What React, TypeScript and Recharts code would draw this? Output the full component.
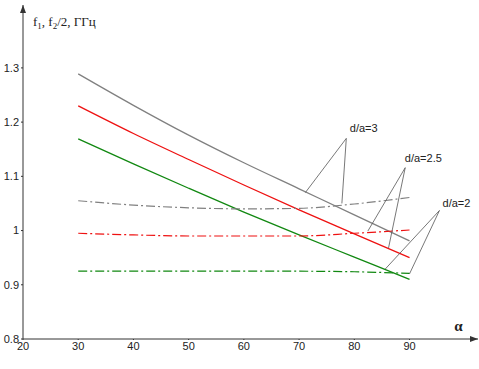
import React from 'react';
import { LineChart, Line, XAxis, YAxis, ReferenceLine, ReferenceDot } from 'recharts';

// angle values (x axis)
const alpha = [30, 40, 50, 60, 70, 80, 90];

// f1 (solid) and f2/2 (dash-dot) for d/a = 3, 2.5, 2
const grayF1 = [1.289, 1.231, 1.176, 1.125, 1.077, 1.029, 0.981];
const redF1 = [1.23, 1.179, 1.131, 1.084, 1.038, 0.994, 0.95];
const greenF1 = [1.169, 1.123, 1.078, 1.034, 0.992, 0.951, 0.91];
const grayF2 = [1.055, 1.047, 1.042, 1.04, 1.041, 1.049, 1.061];
const redF2 = [0.995, 0.992, 0.99, 0.99, 0.99, 0.995, 1.001];
const greenF2 = [0.925, 0.925, 0.925, 0.925, 0.925, 0.924, 0.921];

const xTicks = [20, 30, 40, 50, 60, 70, 80, 90];
const yTicks = [0.8, 0.9, 1, 1.1, 1.2, 1.3];

// leader lines: label anchor -> two curve points
const callouts = [
  { text: 'd/a=3', tx: 81.7, ty: 1.182, from: { x: 78.55, y: 1.17 }, to: [{ x: 71.13, y: 1.07 }, { x: 77.75, y: 1.05 }] },
  { text: 'd/a=2.5', tx: 92.5, ty: 1.127, from: { x: 89.22, y: 1.116 }, to: [{ x: 82.45, y: 0.999 }, { x: 86.2, y: 0.968 }] },
  { text: 'd/a=2', tx: 98.5, ty: 1.0435, from: { x: 95.42, y: 1.037 }, to: [{ x: 85.6, y: 0.929 }, { x: 89.99, y: 0.92 }] },
];

const data = alpha.map((a, i) => ({
  a,
  g1: grayF1[i],
  r1: redF1[i],
  gr1: greenF1[i],
  g2: grayF2[i],
  r2: redF2[i],
  gr2: greenF2[i],
}));

const AXIS = '#333';
const DASHDOT = '9 3 2 3';
const font = '"Liberation Sans", Arial, sans-serif';

const fmtY = (v: number) => (v === 1 ? '1' : v.toFixed(1));

const ArrowUp = (props: any) => (
  <path d={`M${props.cx},${props.cy} l-3,8 l6,0 z`} fill={AXIS} />
);
const ArrowRight = (props: any) => (
  <path d={`M${props.cx},${props.cy} l-8,-3 l0,6 z`} fill={AXIS} />
);

export default function App() {
  return (
    <div style={{ position: 'absolute', left: 0, top: 0, background: '#fff' }}>
      <LineChart
        width={479}
        height={369}
        data={data}
        margin={{ top: 5, right: 1, left: 0, bottom: 0 }}
      >
        <XAxis
          dataKey="a"
          type="number"
          domain={[20, 102.4]}
          ticks={xTicks}
          height={30}
          stroke={AXIS}
          tickSize={1}
          tick={{ fill: '#222', fontSize: 11, fontFamily: font }}
        />
        <YAxis
          type="number"
          domain={[0.8, 1.416]}
          ticks={yTicks}
          width={23}
          stroke={AXIS}
          tickSize={2}
          tickFormatter={fmtY}
          tick={{ fill: '#222', fontSize: 11, fontFamily: font }}
        />
        <Line dataKey="g1" type="monotone" stroke="#808080" strokeWidth={1.3} dot={false} isAnimationActive={false} />
        <Line dataKey="r1" type="monotone" stroke="#ee1111" strokeWidth={1.3} dot={false} isAnimationActive={false} />
        <Line dataKey="gr1" type="monotone" stroke="#118811" strokeWidth={1.3} dot={false} isAnimationActive={false} />
        <Line dataKey="g2" type="monotone" stroke="#808080" strokeWidth={1.2} strokeDasharray={DASHDOT} dot={false} isAnimationActive={false} />
        <Line dataKey="r2" type="monotone" stroke="#ee1111" strokeWidth={1.2} strokeDasharray={DASHDOT} dot={false} isAnimationActive={false} />
        <Line dataKey="gr2" type="monotone" stroke="#118811" strokeWidth={1.2} strokeDasharray={DASHDOT} dot={false} isAnimationActive={false} />

        {callouts.map((c) =>
          c.to.map((p, j) => (
            <ReferenceLine
              key={c.text + j}
              segment={[c.from, p]}
              stroke="#555"
              strokeWidth={0.8}
              ifOverflow="visible"
            />
          ))
        )}
        {callouts.map((c) => (
          <ReferenceDot
            key={c.text}
            x={c.tx}
            y={c.ty}
            ifOverflow="visible"
            shape={(p: any) => (
              <text x={p.cx} y={p.cy} textAnchor="middle" fontSize={11} fontFamily={font} fill="#222">
                {c.text}
              </text>
            )}
          />
        ))}

        <ReferenceDot
          x={21.8}
          y={1.3775}
          ifOverflow="visible"
          shape={(p: any) => (
            <text x={p.cx} y={p.cy} fontSize={13} fontFamily='"Liberation Serif", "Times New Roman", serif' fill="#222">
              f<tspan fontSize={9} dy={3}>1</tspan>
              <tspan dy={-3}>, f</tspan>
              <tspan fontSize={9} dy={3}>2</tspan>
              <tspan dy={-3}>/2, ГГц</tspan>
            </text>
          )}
        />
        <ReferenceDot
          x={98.1}
          y={0.815}
          ifOverflow="visible"
          shape={(p: any) => (
            <text x={p.cx} y={p.cy} fontSize={15} fontWeight="bold" fontFamily='"Liberation Serif", "Times New Roman", serif' fill="#222">
              α
            </text>
          )}
        />
        <ReferenceDot x={20} y={1.416} ifOverflow="visible" shape={ArrowUp} />
        <ReferenceDot x={102.4} y={0.8} ifOverflow="visible" shape={ArrowRight} />
      </LineChart>
    </div>
  );
}
